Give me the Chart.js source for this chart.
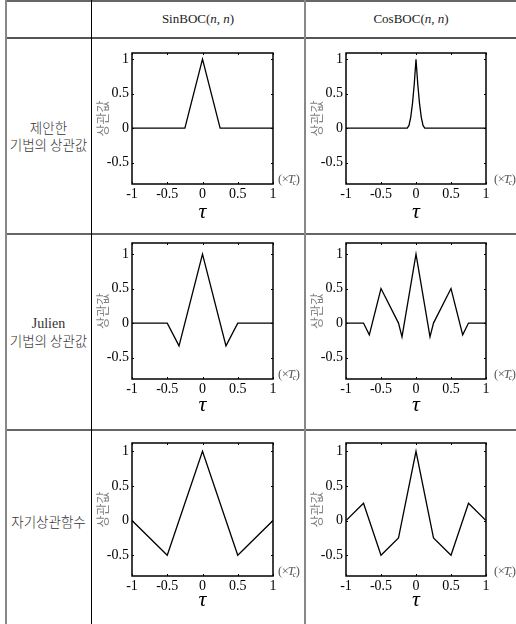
<!DOCTYPE html>
<html><head><meta charset="utf-8">
<script src="https://cdn.jsdelivr.net/npm/chart.js@4.4.1/dist/chart.umd.min.js"></script>
<style>
html,body{margin:0;padding:0;background:#fff;}
body{width:516px;height:624px;position:relative;overflow:hidden;}
.ln{position:absolute;}
.hd{position:absolute;top:10px;height:18px;line-height:18px;text-align:center;font-family:'Liberation Serif';font-size:13px;color:#222;}
.rl{position:absolute;left:6px;width:85px;text-align:center;font-family:'Noto Sans CJK KR';font-weight:300;font-size:13.5px;color:#333;line-height:17px;}
.rl .lat{font-family:'Liberation Serif';font-size:14px;font-weight:400;}
canvas{position:absolute;}
</style></head><body>
<div class="ln" style="left:5px;top:0;width:511px;height:2px;background:#666"></div>
<div class="ln" style="left:5px;top:37px;width:511px;height:2px;background:#555"></div>
<div class="ln" style="left:5px;top:233px;width:511px;height:2px;background:#666"></div>
<div class="ln" style="left:5px;top:429px;width:511px;height:2px;background:#666"></div>
<div class="ln" style="left:5px;top:0;width:2px;height:624px;background:#888"></div>
<div class="ln" style="left:91px;top:0;width:1px;height:624px;background:#000"></div>
<div class="ln" style="left:304px;top:0;width:2px;height:624px;background:#888"></div>
<div class="hd" style="left:92px;width:212px">SinBOC(<i>n</i>, <i>n</i>)</div>
<div class="hd" style="left:306px;width:210px">CosBOC(<i>n</i>, <i>n</i>)</div>
<div class="rl" style="top:119px">제안한<br>기법의 상관값</div>
<div class="rl" style="top:314px"><span class="lat">Julien</span><br>기법의 상관값</div>
<div class="rl" style="top:513px">자기상관함수</div>
<script>
// ---- data ----
const xTickValues = [-1, -0.5, 0, 0.5, 1];
const yTickValues = [-0.5, 0, 0.5, 1];

const proposedSinTau = [-1, -0.25, 0, 0.25, 1];
const proposedSinVal = [0, 0, 1, 0, 0];

const proposedCosTau = [-1, -0.125, -0.1, -0.075, -0.05, -0.025, 0, 0.025, 0.05, 0.075, 0.1, 0.125, 1];
const proposedCosVal = [0, 0, 0.04, 0.16, 0.36, 0.64, 1, 0.64, 0.36, 0.16, 0.04, 0, 0];

const julienSinTau = [-1, -0.5, -0.333, 0, 0.333, 0.5, 1];
const julienSinVal = [0, 0, -0.33, 1, -0.33, 0, 0];

const julienCosTau = [-1, -0.75, -0.667, -0.5, -0.25, -0.2, 0, 0.2, 0.25, 0.5, 0.667, 0.75, 1];
const julienCosVal = [0, 0, -0.17, 0.5, 0, -0.2, 1, -0.2, 0, 0.5, -0.17, 0, 0];

const autoSinTau = [-1, -0.5, 0, 0.5, 1];
const autoSinVal = [0, -0.5, 1, -0.5, 0];

const autoCosTau = [-1, -0.75, -0.5, -0.25, 0, 0.25, 0.5, 0.75, 1];
const autoCosVal = [0, 0.25, -0.5, -0.25, 1, -0.25, -0.5, 0.25, 0];

const yAxisLabel = '상관값';
const xAxisLabel = 'τ';

// ---- layout ----
const padL = 50, padR = 30, padT = 12, padB = 48;
const panels = [
  {tau: proposedSinTau, val: proposedSinVal, plotL: 132, plotT: 53, plotW: 141, plotH: 131, yMin: -0.81, yMax: 1.09, tauPad: 7, tcDx: 5},
  {tau: proposedCosTau, val: proposedCosVal, plotL: 346, plotT: 53, plotW: 140, plotH: 131, yMin: -0.81, yMax: 1.09, tauPad: 7, tcDx: 8},
  {tau: julienSinTau, val: julienSinVal, plotL: 132, plotT: 243, plotW: 141, plotH: 136, yMin: -0.81, yMax: 1.16, tauPad: 9, tcDx: 5},
  {tau: julienCosTau, val: julienCosVal, plotL: 346, plotT: 243, plotW: 140, plotH: 136, yMin: -0.81, yMax: 1.16, tauPad: 9, tcDx: 8},
  {tau: autoSinTau, val: autoSinVal, plotL: 132, plotT: 443, plotW: 141, plotH: 133, yMin: -0.8, yMax: 1.12, tauPad: 10.5, tcDx: 5},
  {tau: autoCosTau, val: autoCosVal, plotL: 346, plotT: 443, plotW: 140, plotH: 133, yMin: -0.8, yMax: 1.12, tauPad: 10.5, tcDx: 8}
];

const framePlugin = {
  id: 'frame',
  afterDatasetsDraw(chart, args, opts) {
    const {ctx, chartArea: a, scales} = chart;
    ctx.save();
    ctx.strokeStyle = '#000';
    ctx.lineWidth = 1.5;
    ctx.strokeRect(a.left, a.top, a.right - a.left, a.bottom - a.top);
    ctx.lineWidth = 1;
    ctx.beginPath();
    scales.x.ticks.forEach(t => {
      const px = Math.round(scales.x.getPixelForValue(t.value)) + 0.5;
      ctx.moveTo(px, a.bottom); ctx.lineTo(px, a.bottom - 2);
      ctx.moveTo(px, a.top); ctx.lineTo(px, a.top + 2);
    });
    scales.y.ticks.forEach(t => {
      const py = Math.round(scales.y.getPixelForValue(t.value)) + 0.5;
      ctx.moveTo(a.left, py); ctx.lineTo(a.left + 2, py);
      ctx.moveTo(a.right, py); ctx.lineTo(a.right - 2, py);
    });
    ctx.stroke();
    // (×Tc) unit label
    let x = a.right + (opts.tcDx || 5);
    const y = a.bottom - 1;
    ctx.fillStyle = '#555';
    ctx.textBaseline = 'alphabetic';
    ctx.textAlign = 'left';
    ctx.font = "12.5px 'Liberation Serif'";
    ctx.fillText('(', x, y); x += ctx.measureText('(').width - 0.5;
    ctx.fillText('×', x, y); x += ctx.measureText('×').width - 1;
    ctx.font = "italic 12.5px 'Liberation Serif'";
    ctx.fillText('T', x, y); x += ctx.measureText('T').width - 2;
    ctx.font = "italic 8px 'Liberation Serif'";
    ctx.fillText('c', x, y + 2); x += ctx.measureText('c').width - 0.5;
    ctx.font = "12.5px 'Liberation Serif'";
    ctx.fillText(')', x, y);
    ctx.restore();
  }
};

panels.forEach(p => {
  const c = document.createElement('canvas');
  const W = padL + p.plotW + padR, H = padT + p.plotH + padB;
  c.width = W; c.height = H;
  c.style.left = (p.plotL - padL) + 'px';
  c.style.top = (p.plotT - padT) + 'px';
  c.style.width = W + 'px'; c.style.height = H + 'px';
  document.body.appendChild(c);
  new Chart(c, {
    type: 'line',
    data: {
      datasets: [{
        data: p.tau.map((t, i) => ({x: t, y: p.val[i]})),
        borderColor: '#000', borderWidth: 1.3, pointRadius: 0, tension: 0, fill: false
      }]
    },
    options: {
      responsive: false, animation: false, devicePixelRatio: 1,
      layout: {padding: {left: 0, right: padR, top: padT, bottom: 0}},
      plugins: {legend: {display: false}, tooltip: {enabled: false}, frame: {tcDx: p.tcDx}},
      scales: {
        x: {
          type: 'linear', min: -1, max: 1,
          afterBuildTicks: s => { s.ticks = xTickValues.map(v => ({value: v})); },
          afterFit: s => { s.height = padB; },
          grid: {display: false, drawTicks: false}, border: {display: false},
          ticks: {autoSkip: false, maxRotation: 0, padding: 2, color: '#000',
                  font: {family: "'Liberation Serif'", size: 14}, callback: v => String(v)},
          title: {display: true, text: xAxisLabel, color: '#000',
                  font: {family: "'Liberation Serif'", size: 22, style: 'italic'},
                  padding: {top: 0, bottom: p.tauPad}}
        },
        y: {
          type: 'linear', min: p.yMin, max: p.yMax,
          afterBuildTicks: s => { s.ticks = yTickValues.map(v => ({value: v})); },
          afterFit: s => { s.width = padL; },
          grid: {display: false, drawTicks: false}, border: {display: false},
          ticks: {padding: 3, color: '#000', font: {family: "'Liberation Serif'", size: 14},
                  callback: v => String(v)},
          title: {display: true, text: yAxisLabel, color: '#808080',
                  font: {family: "'Noto Sans CJK KR'", size: 13},
                  padding: {top: 12, bottom: 0}}
        }
      }
    },
    plugins: [framePlugin]
  });
});
</script>
</body></html>
